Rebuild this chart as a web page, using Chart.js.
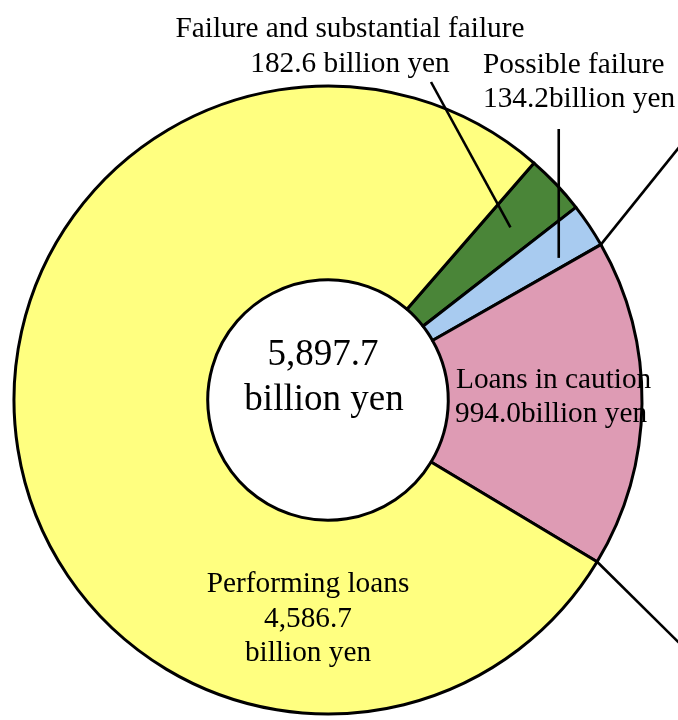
<!DOCTYPE html>
<html>
<head>
<meta charset="utf-8">
<script src="https://cdn.jsdelivr.net/npm/chart.js@4.4.1/dist/chart.umd.min.js"></script>
<style>
  html, body { margin: 0; padding: 0; background: #fff; }
  #loanChart { display: block; }
</style>
</head>
<body>
<canvas id="loanChart" width="678" height="720"></canvas>
<script>
// loan categories, amounts in billion yen
const categories = ['Failure and substantial failure', 'Possible failure', 'Loans in caution', 'Performing loans'];
const amounts = [182.6, 134.2, 994.0, 4586.7];
const totalAmount = 5897.7;
const sliceColors = ['#4A8538', '#A8CBF0', '#DE9BB4', '#FFFF80'];

const FONT = '"Liberation Serif", "Times New Roman", serif';

const fmt = (v) => v.toLocaleString('en-US', { minimumFractionDigits: 1, maximumFractionDigits: 1 });

// point on an arc at a given fraction of its span and of the outer radius
const arcPoint = (arc, t, r) => {
  const p = arc.getProps(['x', 'y', 'startAngle', 'endAngle', 'outerRadius'], true);
  const a = p.startAngle + (p.endAngle - p.startAngle) * t;
  return { x: p.x + Math.cos(a) * p.outerRadius * r, y: p.y + Math.sin(a) * p.outerRadius * r };
};

const line = (ctx, x1, y1, x2, y2) => {
  ctx.beginPath();
  ctx.moveTo(x1, y1);
  ctx.lineTo(x2, y2);
  ctx.stroke();
};

const text = (ctx, str, x, y, size, align) => {
  ctx.font = size + 'px ' + FONT;
  ctx.textAlign = align;
  ctx.fillText(str, x, y);
};

// labels + leader lines
const labelPlugin = {
  id: 'loanLabels',
  afterDatasetsDraw(chart) {
    const ctx = chart.ctx;
    const arcs = chart.getDatasetMeta(0).data;
    ctx.save();
    ctx.strokeStyle = '#000';
    ctx.lineWidth = 2.6;
    ctx.lineCap = 'butt';

    // failure -> middle of green slice
    const g = arcPoint(arcs[0], 0.5, 0.8);
    line(ctx, 431, 82, g.x, g.y);

    // possible failure -> vertical into blue slice
    const b = arcPoint(arcs[1], 0.76, 0.863);
    line(ctx, b.x, 129, b.x, b.y);

    // edge lines running off to the right
    const e1 = arcPoint(arcs[1], 1, 1);
    line(ctx, e1.x, e1.y, e1.x + 90, e1.y - 112);
    const e2 = arcPoint(arcs[2], 1, 1);
    line(ctx, e2.x, e2.y, e2.x + 90, e2.y + 89);

    ctx.fillStyle = '#000';
    ctx.textBaseline = 'alphabetic';
    const fs = 29.3;

    text(ctx, categories[0], 350, 37, fs, 'center');
    text(ctx, fmt(amounts[0]) + ' billion yen', 350, 72, fs, 'center');

    text(ctx, categories[1], 483, 73, fs, 'left');
    text(ctx, fmt(amounts[1]) + 'billion yen', 483, 107, fs, 'left');

    text(ctx, categories[2], 456, 388, fs, 'left');
    text(ctx, fmt(amounts[2]) + 'billion yen', 455, 422, fs, 'left');

    text(ctx, categories[3], 308, 592, fs, 'center');
    text(ctx, fmt(amounts[3]), 308, 627, fs, 'center');
    text(ctx, 'billion yen', 308, 661, fs, 'center');

    text(ctx, fmt(totalAmount), 323, 365, 37, 'center');
    text(ctx, 'billion yen', 324, 410, 37, 'center');

    ctx.restore();
  }
};

const ctx = document.getElementById('loanChart');

new Chart(ctx, {
  type: 'doughnut',
  data: {
    labels: categories,
    datasets: [{
      data: amounts,
      backgroundColor: sliceColors,
      borderColor: '#000',
      borderWidth: 3,
      borderJoinStyle: 'round',
    }]
  },
  options: {
    responsive: false,
    animation: false,
    rotation: 41,
    radius: 314,
    cutout: 122,
    layout: {
      padding: { left: 0, right: 22, top: 80, bottom: 0 }
    },
    plugins: {
      legend: { display: false },
      tooltip: { enabled: false },
    },
  },
  plugins: [labelPlugin],
});
</script>
</body>
</html>
